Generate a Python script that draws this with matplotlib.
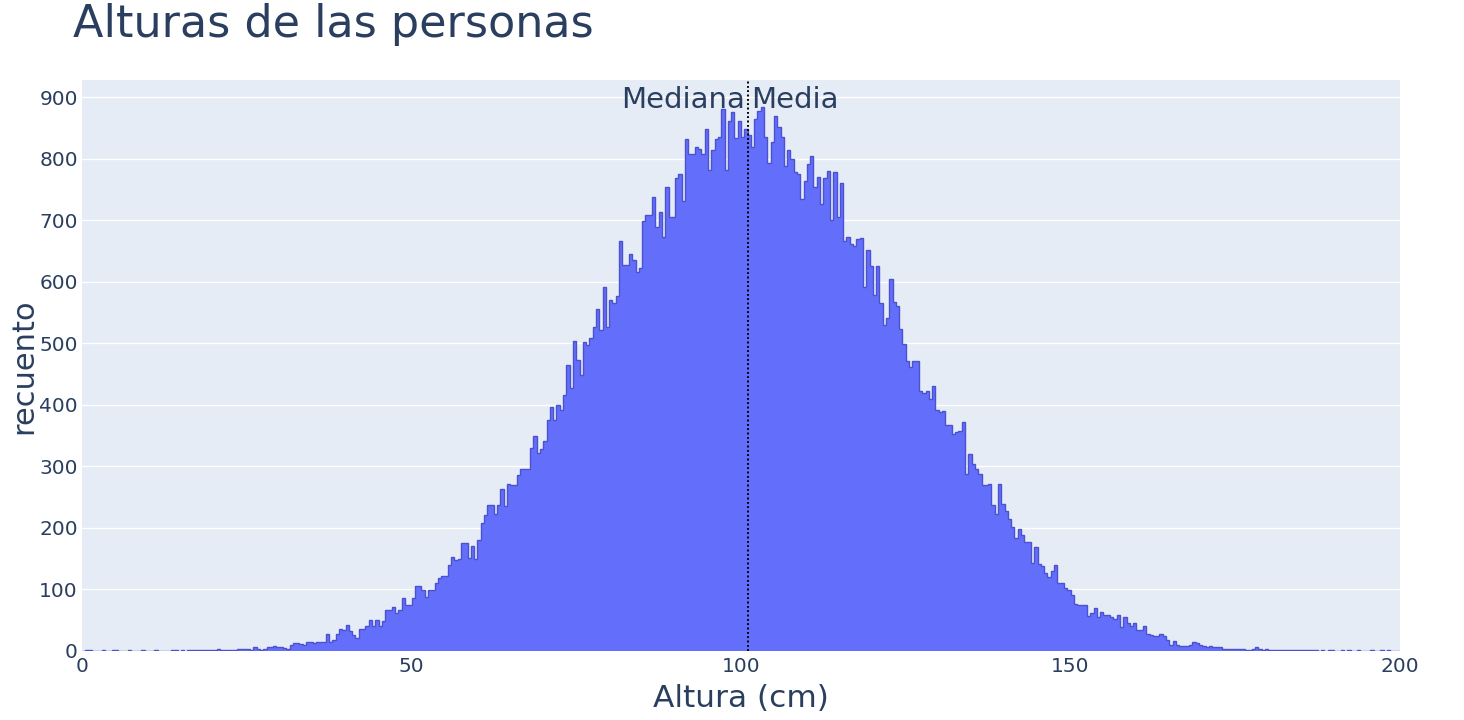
import numpy as np
import matplotlib
matplotlib.use("Agg")
import matplotlib.pyplot as plt
import matplotlib.transforms as mtransforms

# histogram counts, one value per 0.5 cm bin from 0 to 200 cm
counts = [
    0, 1, 1, 0, 0, 0, 1, 0, 0, 1,                        # 0 - 5
    1, 0, 0, 0, 1, 0, 0, 0, 1, 0,                        # 5 - 10
    0, 0, 1, 0, 0, 0, 0, 1, 1, 0,                        # 10 - 15
    1, 0, 2, 1, 1, 2, 1, 2, 2, 1,                        # 15 - 20
    2, 3, 2, 1, 2, 1, 1, 4, 4, 4,                        # 20 - 25
    4, 1, 6, 3, 2, 3, 6, 6, 8, 6,                        # 25 - 30
    6, 5, 3, 10, 13, 13, 12, 10, 14, 14,                 # 30 - 35
    13, 14, 15, 15, 28, 15, 18, 28, 36, 34,              # 35 - 40
    42, 32, 26, 21, 36, 36, 41, 51, 40, 51,              # 40 - 45
    41, 48, 67, 66, 71, 62, 67, 86, 75, 75,              # 45 - 50
    86, 106, 106, 99, 87, 99, 99, 111, 118, 122,         # 50 - 55
    122, 139, 153, 148, 149, 176, 176, 151, 170, 149,    # 55 - 60
    180, 208, 221, 238, 238, 222, 238, 263, 236, 272,    # 60 - 65
    269, 270, 286, 295, 296, 295, 330, 349, 322, 328,    # 65 - 70
    342, 375, 396, 376, 400, 391, 416, 465, 427, 504,    # 70 - 75
    473, 449, 503, 497, 508, 526, 556, 522, 592, 527,    # 75 - 80
    571, 565, 577, 667, 627, 627, 646, 635, 616, 622,    # 80 - 85
    699, 709, 709, 738, 689, 714, 673, 754, 706, 706,    # 85 - 90
    769, 776, 732, 832, 808, 808, 819, 816, 808, 849,    # 90 - 95
    782, 815, 832, 835, 881, 782, 862, 876, 834, 861,    # 95 - 100
    835, 849, 838, 819, 865, 878, 884, 835, 793, 827,    # 100 - 105
    870, 851, 835, 789, 814, 800, 778, 776, 735, 764,    # 105 - 110
    792, 804, 754, 771, 727, 769, 780, 700, 778, 705,    # 110 - 115
    761, 667, 673, 661, 658, 670, 672, 592, 652, 625,    # 115 - 120
    578, 625, 565, 530, 541, 604, 568, 561, 523, 499,    # 120 - 125
    472, 462, 472, 472, 422, 419, 422, 410, 431, 392,    # 125 - 130
    388, 390, 368, 368, 353, 356, 357, 372, 288, 320,    # 130 - 135
    304, 296, 288, 269, 269, 272, 237, 222, 271, 239,    # 135 - 140
    228, 215, 202, 184, 198, 188, 177, 177, 143, 169,    # 140 - 145
    141, 138, 126, 121, 130, 139, 110, 110, 102, 99,     # 145 - 150
    91, 77, 74, 74, 75, 57, 62, 70, 56, 64,              # 150 - 155
    59, 59, 56, 52, 59, 39, 55, 45, 41, 45,              # 155 - 160
    34, 34, 41, 27, 26, 25, 25, 27, 25, 18,              # 160 - 165
    10, 16, 10, 8, 8, 8, 10, 14, 13, 10,                 # 165 - 170
    8, 6, 8, 6, 7, 7, 4, 4, 3, 4,                        # 170 - 175
    4, 4, 3, 2, 2, 3, 7, 4, 2, 4,                        # 175 - 180
    2, 1, 1, 1, 1, 2, 1, 1, 1, 2,                        # 180 - 185
    2, 1, 1, 1, 1, 0, 1, 0, 1, 1,                        # 185 - 190
    0, 0, 1, 0, 1, 0, 0, 1, 0, 0,                        # 190 - 195
    0, 1, 0, 0, 1, 0, 1, 0, 0, 0,                        # 195 - 200
]
bin_width = 0.5

media = 101.1     # mean height (cm)
mediana = 101.0   # median height (cm)

title = "Alturas de las personas"
xlabel = "Altura (cm)"
ylabel = "recuento"
xticks = [0, 50, 100, 150, 200]
yticks = [0, 100, 200, 300, 400, 500, 600, 700, 800, 900]

text_col = "#2a3f5f"
bar_col = "#636efa"
edge_col = "#4a52d0"
bg_col = "#e5ecf6"

plt.rcParams['font.family'] = ['DejaVu Sans']

fig = plt.figure(figsize=(14.64, 7.2), dpi=100)
ax = fig.add_axes([82 / 1464, 69 / 720, 1318 / 1464, 571 / 720])
ax.set_facecolor(bg_col)

edges = np.arange(len(counts) + 1) * bin_width
ax.bar(edges[:-1], counts, width=bin_width, align='edge', color=bar_col,
       linewidth=0, zorder=2)
ax.stairs(counts, edges, color=edge_col, linewidth=1.0, baseline=None, zorder=3)

# mean / median lines
ax.axvline(mediana, color='black', linestyle=(0, (1, 1.6)), linewidth=1.2, zorder=4)
ax.axvline(media, color='black', linestyle=(0, (1, 1.6)), linewidth=1.2, zorder=4)
trans = mtransforms.blended_transform_factory(ax.transData, ax.transAxes)
ax.annotate("Mediana", xy=(mediana, 0.99), xycoords=trans, xytext=(-2, 0),
            textcoords='offset points', ha='right', va='top', fontsize=21,
            color=text_col, zorder=5)
ax.annotate("Media", xy=(media, 0.99), xycoords=trans, xytext=(2, 0),
            textcoords='offset points', ha='left', va='top', fontsize=21,
            color=text_col, zorder=5)

ax.set_xlim(0, 200)
ax.set_ylim(0, 928)
ax.set_xticks(xticks)
ax.set_yticks(yticks)
ax.tick_params(axis='both', length=0, labelsize=14.5, labelcolor=text_col)
ax.tick_params(axis='y', pad=3)
ax.tick_params(axis='x', pad=4)
ax.grid(axis='y', color='white', linewidth=1.0, zorder=0)
ax.set_axisbelow(True)
for s in ax.spines.values():
    s.set_visible(False)

ax.set_xlabel(xlabel, fontsize=22.5, color=text_col, labelpad=6)
fig.text(24 / 1464, 1 - 366 / 720, ylabel, fontsize=22, color=text_col,
         rotation=90, ha='center', va='center')

fig.text(73 / 1464, 1 - 25 / 720, title, fontsize=32, color=text_col,
         ha='left', va='center')

fig.savefig("out.png", dpi=100, facecolor='white')
